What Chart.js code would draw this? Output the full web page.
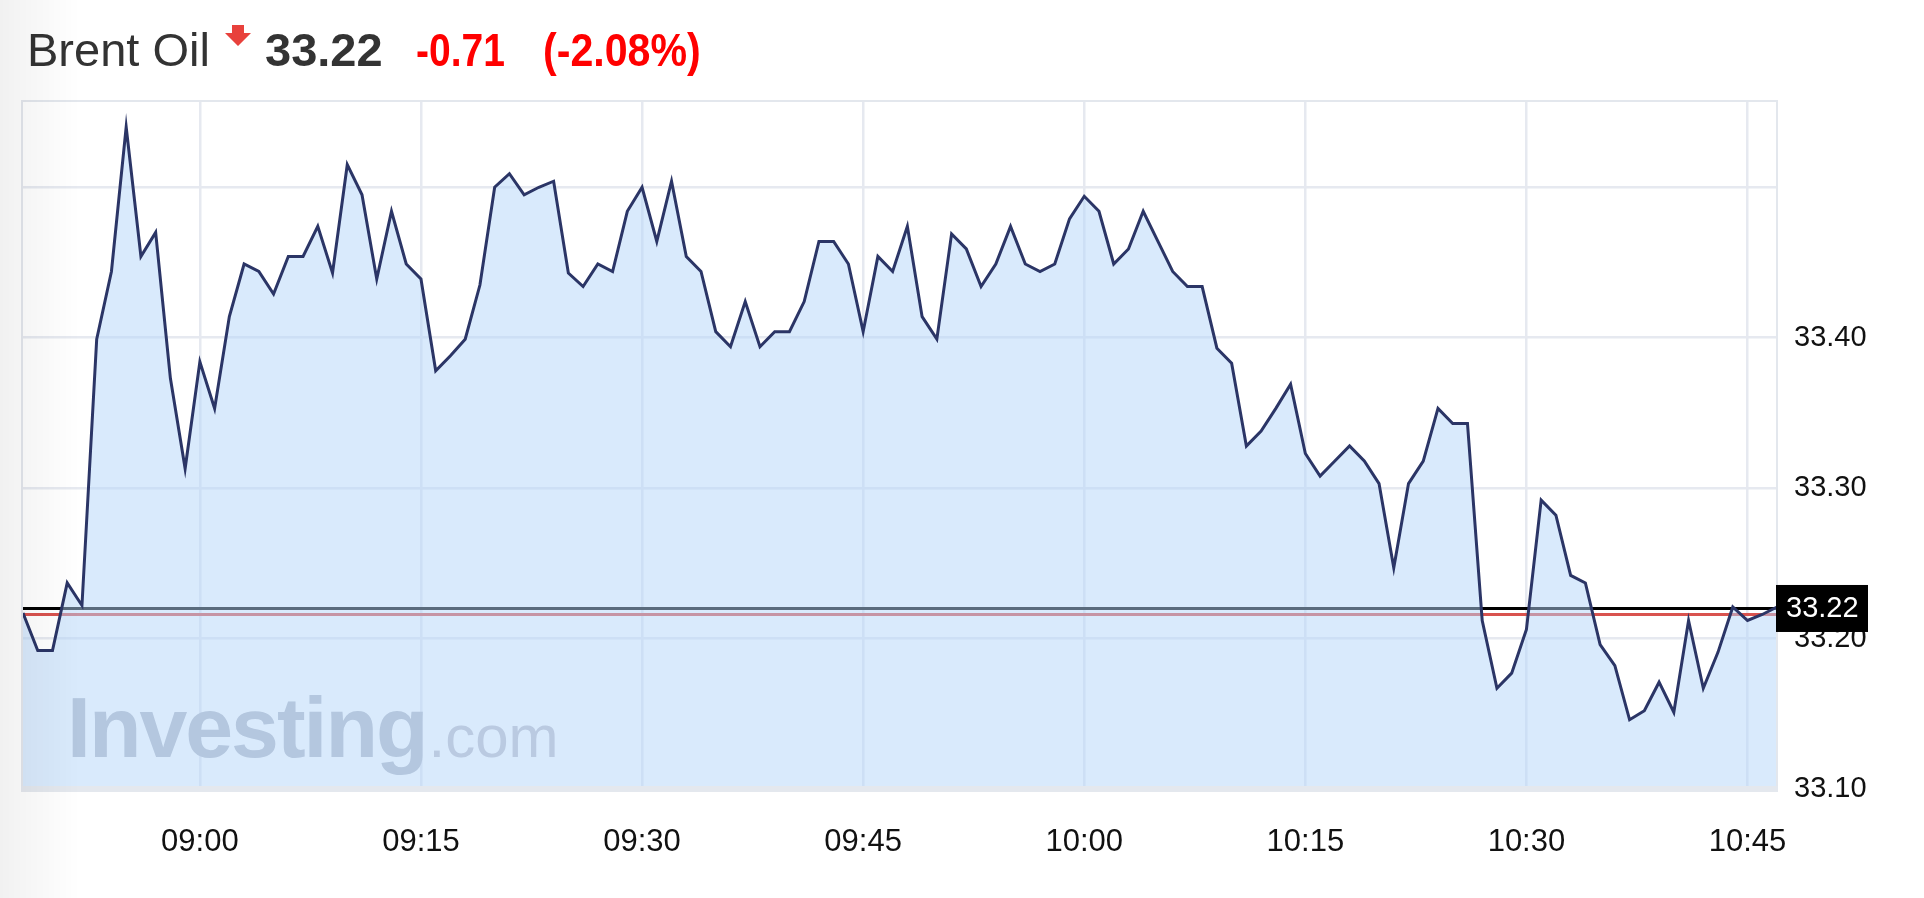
<!DOCTYPE html>
<html lang="fr">
<head>
<meta charset="utf-8">
<title>Brent Oil</title>
<script src="https://cdn.jsdelivr.net/npm/chart.js@4.4.1/dist/chart.umd.min.js"></script>
<style>
  html, body { margin: 0; padding: 0; background: #fff; }
  body { width: 1924px; height: 898px; position: relative; overflow: hidden; font-family: "Liberation Sans", Arial, sans-serif; }
  #graphique { position: absolute; left: 0; top: 0; }
  .entete { position: absolute; top: 26px; font-size: 47px; line-height: 47px; white-space: nowrap; transform-origin: left center; }
  #nom { left: 27px; color: #333; }
  #prix { left: 265px; color: #333; font-weight: bold; }
  #variation { left: 416px; color: #f00; font-weight: bold; transform: scaleX(0.83); }
  #pourcent { left: 543px; color: #f00; font-weight: bold; transform: scaleX(0.875); }
  #fleche { position: absolute; left: 225px; top: 25px; }
  #ombre { position: absolute; left: 0; top: 0; width: 80px; height: 898px; pointer-events: none;
           background: linear-gradient(to right, rgba(0,0,0,0.055), rgba(0,0,0,0)); }
</style>
</head>
<body>
<canvas id="graphique" width="1924" height="898"></canvas>
<span class="entete" id="nom">Brent Oil</span>
<svg id="fleche" width="26" height="21" viewBox="0 0 26 21"><path d="M7 0 H19 V8 H26 L13 21 L0 8 H7 Z" fill="#e8413c"/></svg>
<span class="entete" id="prix">33.22</span>
<span class="entete" id="variation">-0.71</span>
<span class="entete" id="pourcent">(-2.08%)</span>
<div id="ombre"></div>
<script>
"use strict";

// une valeur par minute, de 08:48 à 10:47
const heures = [
  "08:48", "08:49", "08:50", "08:51", "08:52", "08:53", "08:54", "08:55", "08:56", "08:57", "08:58", "08:59",
  "09:00", "09:01", "09:02", "09:03", "09:04", "09:05", "09:06", "09:07", "09:08", "09:09",
  "09:10", "09:11", "09:12", "09:13", "09:14", "09:15", "09:16", "09:17", "09:18", "09:19",
  "09:20", "09:21", "09:22", "09:23", "09:24", "09:25", "09:26", "09:27", "09:28", "09:29",
  "09:30", "09:31", "09:32", "09:33", "09:34", "09:35", "09:36", "09:37", "09:38", "09:39",
  "09:40", "09:41", "09:42", "09:43", "09:44", "09:45", "09:46", "09:47", "09:48", "09:49",
  "09:50", "09:51", "09:52", "09:53", "09:54", "09:55", "09:56", "09:57", "09:58", "09:59",
  "10:00", "10:01", "10:02", "10:03", "10:04", "10:05", "10:06", "10:07", "10:08", "10:09",
  "10:10", "10:11", "10:12", "10:13", "10:14", "10:15", "10:16", "10:17", "10:18", "10:19",
  "10:20", "10:21", "10:22", "10:23", "10:24", "10:25", "10:26", "10:27", "10:28", "10:29",
  "10:30", "10:31", "10:32", "10:33", "10:34", "10:35", "10:36", "10:37", "10:38", "10:39",
  "10:40", "10:41", "10:42", "10:43", "10:44", "10:45", "10:46", "10:47"
];

const cours = [
  33.217, 33.192, 33.192, 33.237, 33.222, 33.399, 33.444, 33.540, 33.454, 33.470,
  33.373, 33.313, 33.384, 33.353, 33.414, 33.449, 33.444, 33.429, 33.454, 33.454,
  33.474, 33.443, 33.515, 33.495, 33.439, 33.484, 33.449, 33.439, 33.378, 33.388,
  33.399, 33.435, 33.500, 33.509, 33.495, 33.500, 33.504, 33.443, 33.434, 33.449,
  33.444, 33.484, 33.500, 33.464, 33.504, 33.454, 33.444, 33.404, 33.394, 33.424,
  33.394, 33.404, 33.404, 33.424, 33.464, 33.464, 33.449, 33.404, 33.454, 33.444,
  33.474, 33.414, 33.399, 33.469, 33.459, 33.434, 33.449, 33.474, 33.449, 33.444,
  33.449, 33.479, 33.494, 33.484, 33.449, 33.459, 33.484, 33.464, 33.444, 33.434,
  33.434, 33.393, 33.383, 33.328, 33.338, 33.353, 33.369, 33.323, 33.308, 33.318,
  33.328, 33.318, 33.303, 33.247, 33.303, 33.318, 33.353, 33.343, 33.343, 33.212,
  33.167, 33.177, 33.206, 33.292, 33.282, 33.242, 33.237, 33.196, 33.182, 33.146,
  33.152, 33.171, 33.151, 33.212, 33.167, 33.191, 33.221, 33.212, 33.216, 33.221
];

const reperesY = [33.10, 33.20, 33.30, 33.40, 33.50];
const etiquettesY = ["33.10", "33.20", "33.30", "33.40", ""];
const etiquettesX = ["09:00", "09:15", "09:30", "09:45", "10:00", "10:15", "10:30", "10:45"];
const prixActuel = 33.22;
const prixReference = 33.216;

const police = '"Liberation Sans", Arial, sans-serif';

// lignes horizontales du prix, dessinées sous le remplissage
const lignesPrix = {
  id: 'lignesPrix',
  beforeDatasetsDraw(chart) {
    const { ctx, chartArea } = chart;
    const axeY = chart.scales.y;
    ctx.save();
    ctx.lineWidth = 3;
    [[prixActuel, '#000'], [prixReference, '#d9534f']].forEach(([v, couleur]) => {
      const yp = axeY.getPixelForValue(v);
      ctx.strokeStyle = couleur;
      ctx.beginPath();
      ctx.moveTo(chartArea.left - 1, yp);
      ctx.lineTo(chartArea.right, yp);
      ctx.stroke();
    });
    ctx.restore();
  }
};

// cadre du graphique + filigrane
const cadre = {
  id: 'cadre',
  afterDatasetsDraw(chart) {
    const { ctx, chartArea } = chart;
    const { left, right, top, bottom } = chartArea;
    ctx.save();
    ctx.font = 'bold 86px ' + police;
    ctx.letterSpacing = '-2px';
    ctx.fillStyle = 'rgb(180,199,223)';
    ctx.textBaseline = 'alphabetic';
    ctx.fillText('Investing', left + 44, bottom - 32);
    const largeur = ctx.measureText('Investing').width;
    ctx.letterSpacing = '0px';
    ctx.font = '60px ' + police;
    ctx.fillStyle = 'rgb(186,202,225)';
    ctx.fillText('.com', left + 44 + largeur + 2, bottom - 32);

    ctx.strokeStyle = '#e3e7ed';
    ctx.lineWidth = 2;
    ctx.beginPath();
    ctx.moveTo(left - 1, bottom);
    ctx.lineTo(left - 1, top + 1);
    ctx.lineTo(right, top + 1);
    ctx.lineTo(right, bottom);
    ctx.stroke();
    ctx.fillStyle = '#e4e8ee';
    ctx.fillRect(left - 2, bottom - 3, right - left + 3, 6);
    ctx.restore();
  },
  afterDraw(chart) {
    const { ctx, chartArea } = chart;
    const yp = chart.scales.y.getPixelForValue(prixActuel);
    ctx.save();
    ctx.fillStyle = '#000';
    ctx.fillRect(chartArea.right - 1, yp - 23.5, 92, 47);
    ctx.fillStyle = '#fff';
    ctx.font = '29px ' + police;
    ctx.textBaseline = 'middle';
    ctx.textAlign = 'left';
    ctx.fillText(prixActuel.toFixed(2), chartArea.right + 9, yp + 1);
    ctx.restore();
  }
};

const ctx = document.getElementById('graphique');
let myChart = new Chart(ctx, {
  type: 'line',
  data: {
    labels: heures,
    datasets: [{
      label: 'Brent Oil',
      data: cours,
      borderColor: '#2b3566',
      borderWidth: 3,
      backgroundColor: 'rgba(180,213,249,0.5)',
      fill: 'start',
      pointRadius: 0,
      tension: 0
    }]
  },
  options: {
    responsive: false,
    animation: false,
    devicePixelRatio: 1,
    events: [],
    layout: { padding: { left: 23, top: 100, right: 0, bottom: 0 } },
    plugins: { legend: { display: false }, tooltip: { enabled: false } },
    scales: {
      x: {
        type: 'category',
        offset: false,
        grid: { color: '#e6e9f0', lineWidth: 2.5, drawTicks: false },
        border: { display: false },
        ticks: {
          autoSkip: false,
          maxRotation: 0,
          padding: 35,
          color: '#111',
          font: { family: police, size: 31 }
        },
        afterBuildTicks: (axe) => {
          axe.ticks = axe.ticks.filter(t => etiquettesX.includes(heures[t.value]));
        },
        afterFit: (axe) => { axe.height = 109; }
      },
      y: {
        position: 'right',
        min: 33.10,
        max: 33.558,
        grid: { color: '#e6e9f0', lineWidth: 2.5, drawTicks: false },
        border: { display: false },
        ticks: {
          padding: 17,
          color: '#111',
          font: { family: police, size: 29 },
          callback: (v, i) => etiquettesY[i]
        },
        afterBuildTicks: (axe) => {
          axe.ticks = reperesY.map(v => ({ value: v }));
        },
        afterFit: (axe) => { axe.width = 147; }
      }
    }
  },
  plugins: [lignesPrix, cadre]
});
</script>
</body>
</html>
